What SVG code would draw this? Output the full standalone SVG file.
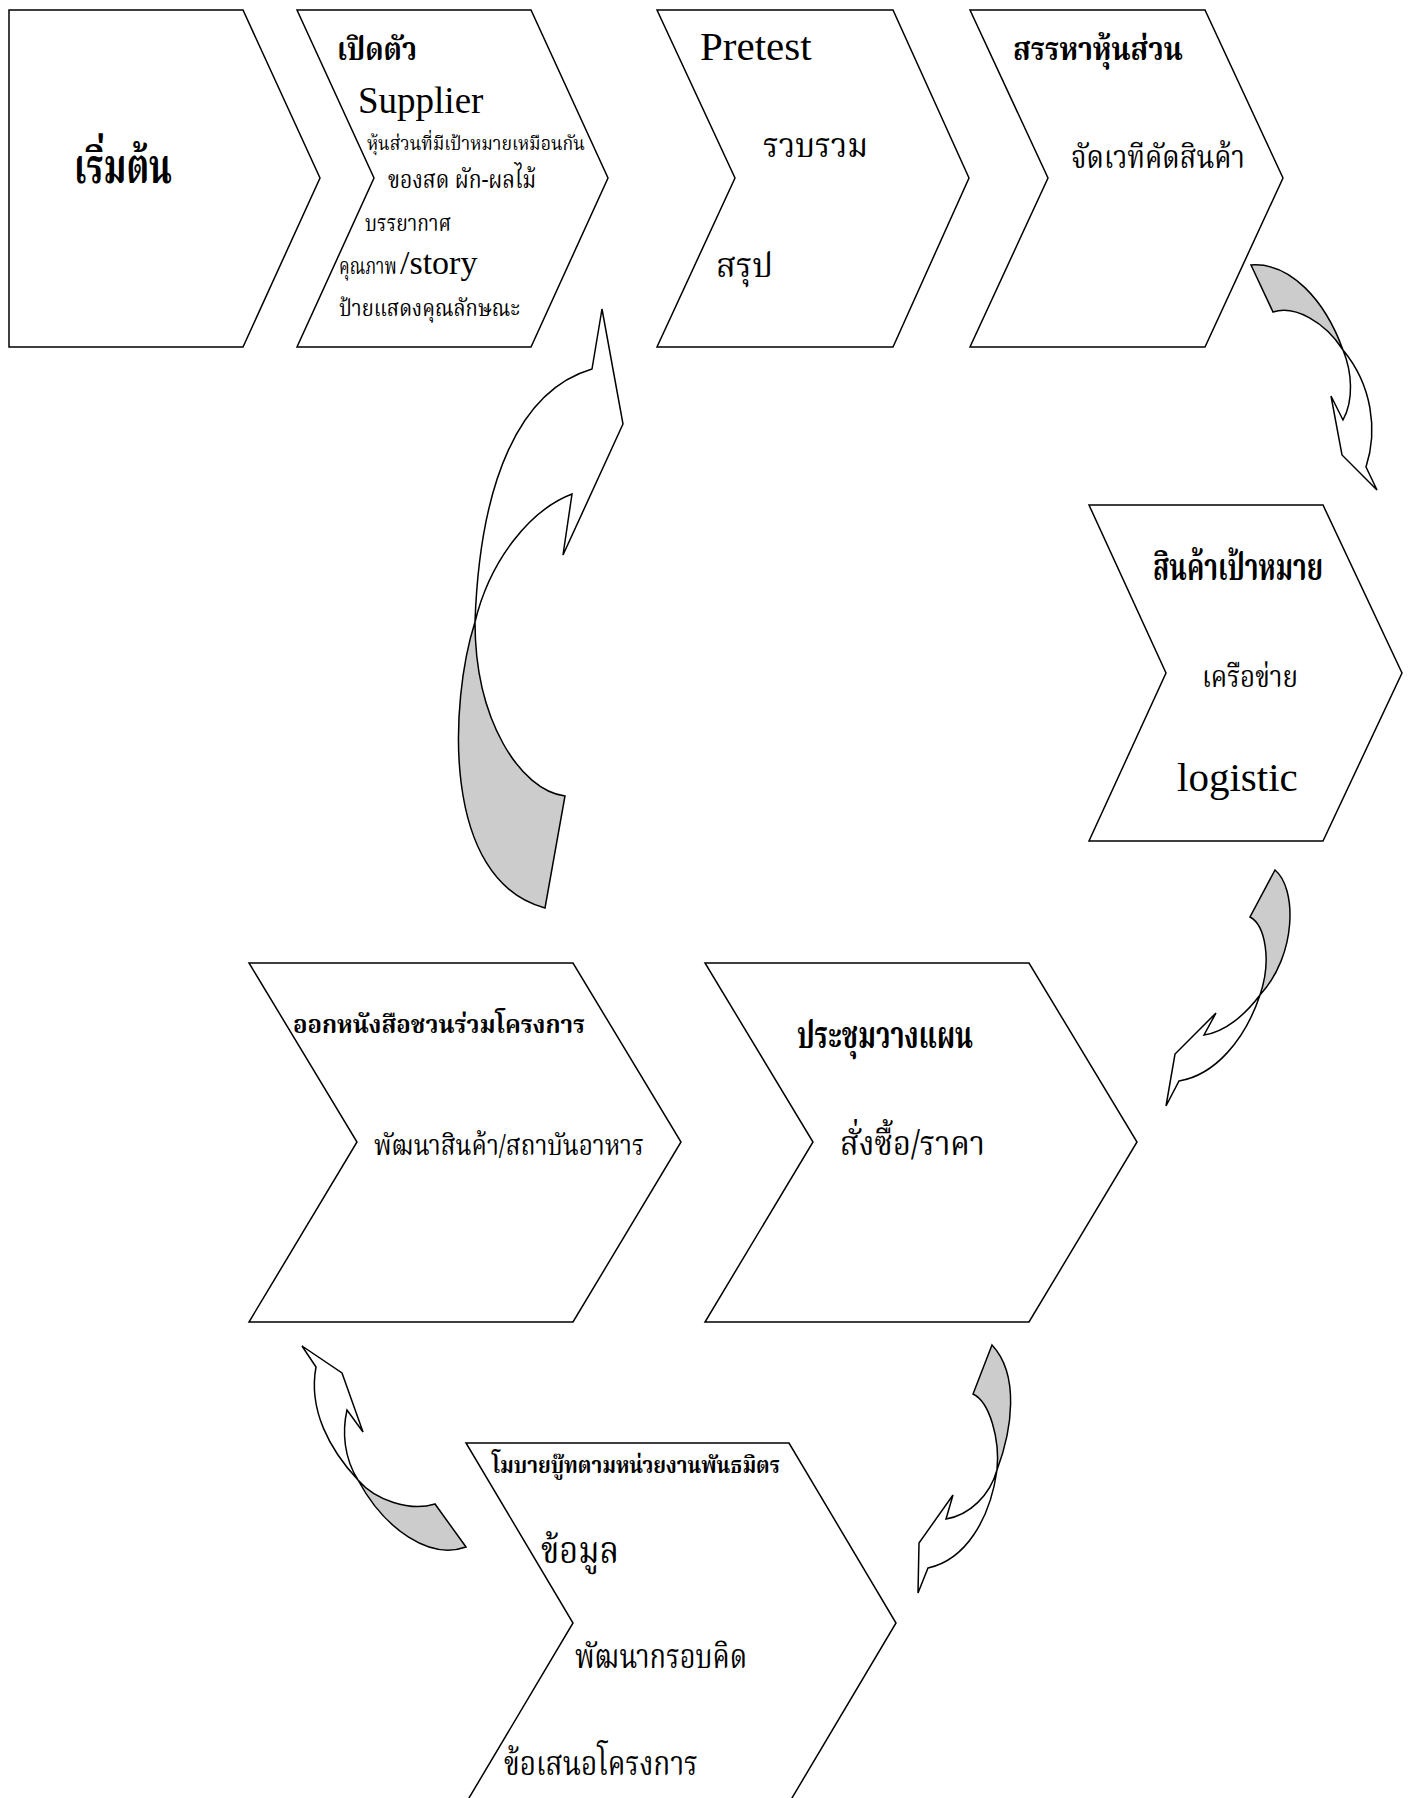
<svg xmlns="http://www.w3.org/2000/svg" width="1410" height="1798" viewBox="0 0 1410 1798">
<style>
.box{fill:#ffffff;stroke:#000000;stroke-width:1.5;stroke-linejoin:miter}
.arw{fill:#ffffff;stroke:#000000;stroke-width:1.5;stroke-linejoin:miter}
.back{fill:#cccccc;stroke:#000000;stroke-width:1.5;stroke-linejoin:miter}
.th{font-family:"Noto Serif Thai","Norasi","Noto Sans Thai","Garuda","Loma","Liberation Serif",serif;fill:#000000}
.b{font-weight:bold}
.en{font-family:"Liberation Serif","Times New Roman",serif;fill:#000000}
</style>
<rect x="0" y="0" width="1410" height="1798" fill="#ffffff"/>
<g id="connectors">
  <g id="arrow-4-5">
    <path class="back" d="M1251,265 L1273,312 C1295,305 1325,322 1343,350 C1325,300 1290,262 1251,265 Z"/>
    <path class="arw" d="M1343,350 C1352,372 1354,400 1343,420 L1331,396 L1342,455 L1377,490 L1366,467 C1378,430 1372,385 1343,350 Z"/>
  </g>
  <g id="arrow-5-7">
    <path class="back" d="M1275,870 L1250,917 C1265,925 1272,960 1260,995 C1297,955 1297,888 1275,870 Z"/>
    <path class="arw" d="M1260,995 C1245,1015 1225,1032 1204,1035 L1216,1013 L1175,1054 L1166,1106 L1179,1081 C1215,1075 1245,1040 1260,995 Z"/>
  </g>
  <g id="arrow-7-8">
    <path class="back" d="M992,1345 L973,1394 C990,1402 1000,1440 997,1470 C1012,1430 1020,1375 992,1345 Z"/>
    <path class="arw" d="M997,1470 C990,1495 970,1515 946,1519 L953,1495 L919,1543 L918,1593 L928,1568 C965,1560 990,1520 997,1470 Z"/>
  </g>
  <g id="arrow-8-6">
    <path class="arw" d="M302,1346 L342,1373 L363,1432 L347,1410 C342,1432 344,1458 358,1480 C330,1450 308,1410 316,1367 Z"/>
    <path class="back" d="M358,1480 C375,1500 410,1512 435,1504 L466,1547 C430,1560 385,1530 358,1480 Z"/>
  </g>
  <g id="arrow-6-2">
    <path class="back" d="M475,622 C450,700 440,880 545,908 L565,796 C520,790 475,720 475,622 Z"/>
    <path class="arw" d="M475,622 C480,480 520,390 592,369 L602,309 L623,424 L563,555 L572,494 C530,510 490,560 475,622 Z"/>
  </g>
</g>
<g id="node-start">
  <path class="box" d="M9,10 L243,10 L320,178 L243,347 L9,347 Z"/>
  <text class="th b" x="74" y="183" font-size="48" textLength="98" lengthAdjust="spacingAndGlyphs">เริ่มต้น</text>
</g>
<g id="node-launch">
  <path class="box" d="M297,10 L531,10 L608,178 L531,347 L297,347 L374,178 Z"/>
  <text class="th b" x="337" y="60" font-size="32" textLength="80" lengthAdjust="spacingAndGlyphs">เปิดตัว</text>
  <text class="en" x="358" y="113" font-size="37">Supplier</text>
  <text class="th" x="367" y="150" font-size="19" textLength="218" lengthAdjust="spacingAndGlyphs">หุ้นส่วนที่มีเป้าหมายเหมือนกัน</text>
  <text class="th" x="388" y="188" font-size="25" textLength="148" lengthAdjust="spacingAndGlyphs">ของสด ผัก-ผลไม้</text>
  <text class="th" x="365" y="231" font-size="23" textLength="86" lengthAdjust="spacingAndGlyphs">บรรยากาศ</text>
  <text class="th" transform="translate(339,274) scale(0.8,1)" x="0" y="0" font-size="23" textLength="72" lengthAdjust="spacingAndGlyphs">คุณภาพ</text>
  <text class="en" x="400" y="274" font-size="34">/story</text>
  <text class="th" x="339" y="316" font-size="23" textLength="181" lengthAdjust="spacingAndGlyphs">ป้ายแสดงคุณลักษณะ</text>
</g>
<g id="node-pretest">
  <path class="box" d="M657,10 L893,10 L969,178 L893,347 L657,347 L735,178 Z"/>
  <text class="en" x="700" y="60" font-size="41">Pretest</text>
  <text class="th" x="763" y="157" font-size="34" textLength="105" lengthAdjust="spacingAndGlyphs">รวบรวม</text>
  <text class="th" x="716" y="277" font-size="34" textLength="57" lengthAdjust="spacingAndGlyphs">สรุป</text>
</g>
<g id="node-partners">
  <path class="box" d="M970,10 L1205,10 L1283,178 L1205,347 L970,347 L1048,178 Z"/>
  <text class="th b" x="1013" y="60" font-size="32" textLength="170" lengthAdjust="spacingAndGlyphs">สรรหาหุ้นส่วน</text>
  <text class="th" x="1071" y="168" font-size="32" textLength="174" lengthAdjust="spacingAndGlyphs">จัดเวทีคัดสินค้า</text>
</g>
<g id="node-target">
  <path class="box" d="M1089,505 L1323,505 L1402,673 L1323,841 L1089,841 L1166,673 Z"/>
  <text class="th b" x="1153" y="580" font-size="38" textLength="170" lengthAdjust="spacingAndGlyphs">สินค้าเป้าหมาย</text>
  <text class="th" x="1202" y="687" font-size="30" textLength="96" lengthAdjust="spacingAndGlyphs">เครือข่าย</text>
  <text class="en" x="1177" y="791" font-size="41">logistic</text>
</g>
<g id="node-invite">
  <path class="box" d="M249,963 L573,963 L681,1142 L573,1322 L249,1322 L357,1142 Z"/>
  <text class="th b" x="293" y="1033" font-size="25" textLength="292" lengthAdjust="spacingAndGlyphs">ออกหนังสือชวนร่วมโครงการ</text>
  <text class="th" x="374" y="1155" font-size="28" textLength="270" lengthAdjust="spacingAndGlyphs">พัฒนาสินค้า/สถาบันอาหาร</text>
</g>
<g id="node-meeting">
  <path class="box" d="M705,963 L1029,963 L1137,1142 L1029,1322 L705,1322 L813,1142 Z"/>
  <text class="th b" x="797" y="1048" font-size="38" textLength="176" lengthAdjust="spacingAndGlyphs">ประชุมวางแผน</text>
  <text class="th" x="840" y="1155" font-size="34" textLength="145" lengthAdjust="spacingAndGlyphs">สั่งซื้อ/ราคา</text>
</g>
<g id="node-booth">
  <path class="box" d="M466,1443 L789,1443 L896,1623 L789,1803 L466,1803 L573,1623 Z"/>
  <text class="th b" x="492" y="1473" font-size="23" textLength="288" lengthAdjust="spacingAndGlyphs">โมบายบู๊ทตามหน่วยงานพันธมิตร</text>
  <text class="th" x="541" y="1563" font-size="38" textLength="78" lengthAdjust="spacingAndGlyphs">ข้อมูล</text>
  <text class="th" x="575" y="1668" font-size="34" textLength="172" lengthAdjust="spacingAndGlyphs">พัฒนากรอบคิด</text>
  <text class="th" x="504" y="1775" font-size="34" textLength="194" lengthAdjust="spacingAndGlyphs">ข้อเสนอโครงการ</text>
</g>
</svg>
